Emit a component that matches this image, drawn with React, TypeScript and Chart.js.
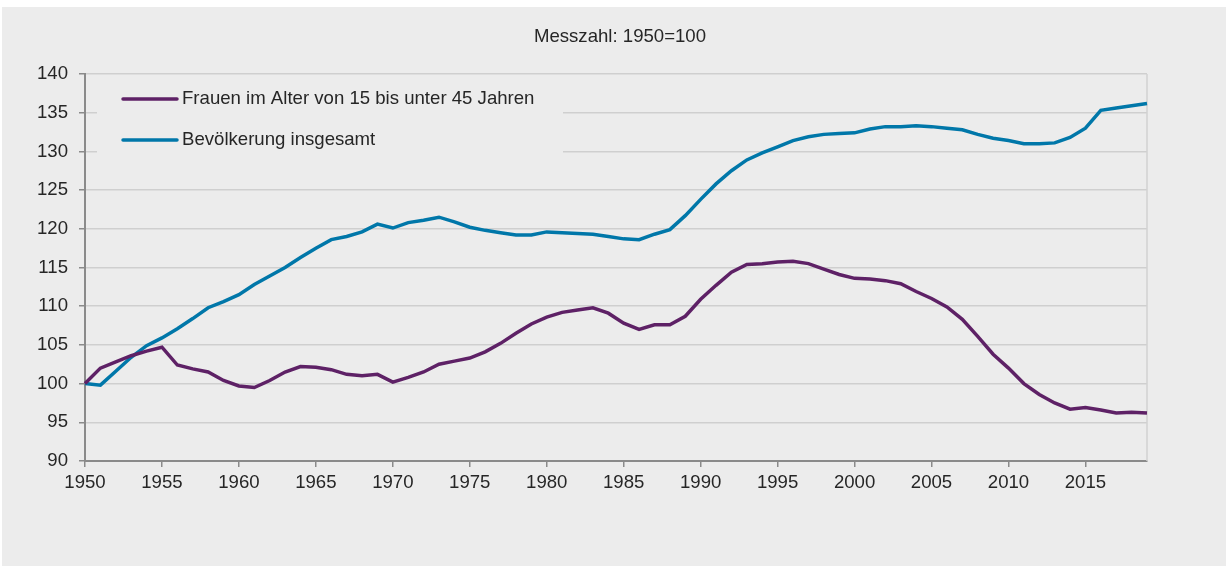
import React, { useEffect, useRef } from "react";
import { Chart, registerables } from "chart.js";

Chart.register(...registerables);

const YEARS = [
  1950, 1951, 1952, 1953, 1954, 1955, 1956, 1957, 1958, 1959,
  1960, 1961, 1962, 1963, 1964, 1965, 1966, 1967, 1968, 1969,
  1970, 1971, 1972, 1973, 1974, 1975, 1976, 1977, 1978, 1979,
  1980, 1981, 1982, 1983, 1984, 1985, 1986, 1987, 1988, 1989,
  1990, 1991, 1992, 1993, 1994, 1995, 1996, 1997, 1998, 1999,
  2000, 2001, 2002, 2003, 2004, 2005, 2006, 2007, 2008, 2009,
  2010, 2011, 2012, 2013, 2014, 2015, 2016, 2017, 2018, 2019,
];

const FRAUEN = [
  100.0, 102.0, 102.8, 103.6, 104.2, 104.7, 102.4, 101.9, 101.5, 100.4,
  99.7, 99.5, 100.4, 101.5, 102.2, 102.1, 101.8, 101.2, 101.0, 101.2,
  100.2, 100.8, 101.5, 102.5, 102.9, 103.3, 104.1, 105.2, 106.5, 107.7,
  108.6, 109.2, 109.5, 109.8, 109.1, 107.8, 107.0, 107.6, 107.6, 108.7,
  110.9, 112.7, 114.4, 115.4, 115.5, 115.7, 115.8, 115.5, 114.8, 114.1,
  113.6, 113.5, 113.3, 112.9, 111.9, 111.0, 109.9, 108.3, 106.1, 103.8,
  102.0, 100.0, 98.6, 97.5, 96.7, 96.9, 96.6, 96.2, 96.3, 96.2,
];

const BEVOELKERUNG = [
  100.0, 99.8, 101.6, 103.4, 104.9, 105.9, 107.1, 108.4, 109.8, 110.6,
  111.5, 112.8, 113.9, 115.0, 116.3, 117.5, 118.6, 119.0, 119.6, 120.6,
  120.1, 120.8, 121.1, 121.5, 120.9, 120.2, 119.8, 119.5, 119.2, 119.2,
  119.6, 119.5, 119.4, 119.3, 119.0, 118.7, 118.6, 119.3, 119.9, 121.7,
  123.8, 125.8, 127.5, 128.9, 129.8, 130.6, 131.4, 131.9, 132.2, 132.3,
  132.4, 132.9, 133.2, 133.2, 133.3, 133.2, 133.0, 132.8, 132.2, 131.7,
  131.4, 131.0, 131.0, 131.1, 131.8, 133.0, 135.3, 135.6, 135.9, 136.2,
];

const SERIES_LABELS = [
  "Frauen im Alter von 15 bis unter 45 Jahren",
  "Bevölkerung insgesamt",
];
const X_TICKS = [1950, 1955, 1960, 1965, 1970, 1975, 1980, 1985, 1990, 1995, 2000, 2005, 2010, 2015];
const Y_TICKS = [90, 95, 100, 105, 110, 115, 120, 125, 130, 135, 140];
const TITLE = "Messzahl: 1950=100";

const BG = "#ececec";
const PURPLE = "#5e2166";
const BLUE = "#0077a9";
const TEXT = "#262626";
const FONT = "'Liberation Sans', Arial, sans-serif";
const FS = 18.6;

export default function App() {
  const ref = useRef<HTMLCanvasElement | null>(null);

  useEffect(() => {
    const canvas = ref.current;
    if (!canvas) return;

    const bgPlugin = {
      id: "bgPlugin",
      beforeDraw(chart: any) {
        const ctx = chart.ctx;
        ctx.save();
        ctx.fillStyle = "#ffffff";
        ctx.fillRect(0, 0, chart.width, chart.height);
        ctx.fillStyle = BG;
        ctx.fillRect(2, 7, chart.width - 2, chart.height - 7);
        ctx.restore();
      },
      afterDraw(chart: any) {
        const ctx = chart.ctx;
        const area = chart.chartArea;
        ctx.save();
        ctx.fillStyle = TEXT;
        ctx.font = `${FS}px ${FONT}`;
        ctx.textAlign = "center";
        ctx.textBaseline = "middle";
        ctx.fillText(TITLE, (area.left + area.right) / 2 + 4, 37);
        ctx.restore();
      },
      beforeDatasetsDraw(chart: any) {
        const ctx = chart.ctx;
        const area = chart.chartArea;
        ctx.save();
        // right border
        ctx.strokeStyle = "#d2d2d2";
        ctx.lineWidth = 1.5;
        ctx.beginPath();
        ctx.moveTo(area.right, area.top);
        ctx.lineTo(area.right, area.bottom);
        ctx.stroke();
        // legend box covering grid lines
        ctx.fillStyle = BG;
        ctx.fillRect(area.left + 12, area.top + 6, 466, 88);
        const colors = [PURPLE, BLUE];
        const ys = [area.top + 25, area.top + 66];
        ctx.font = `${FS}px ${FONT}`;
        ctx.textBaseline = "middle";
        ctx.textAlign = "left";
        for (let i = 0; i < SERIES_LABELS.length; i++) {
          ctx.strokeStyle = colors[i];
          ctx.lineWidth = 3.5;
          ctx.lineCap = "round";
          ctx.beginPath();
          ctx.moveTo(area.left + 38, ys[i]);
          ctx.lineTo(area.left + 92, ys[i]);
          ctx.stroke();
          ctx.fillStyle = TEXT;
          ctx.fillText(SERIES_LABELS[i], area.left + 97, ys[i]);
        }
        ctx.restore();
      },
    };

    const chart = new Chart(canvas, {
      type: "line",
      data: {
        datasets: [
          {
            label: SERIES_LABELS[0],
            data: YEARS.map((y, i) => ({ x: y, y: FRAUEN[i] })),
            borderColor: PURPLE,
            backgroundColor: PURPLE,
            borderWidth: 3.5,
            pointRadius: 0,
            tension: 0,
            clip: false as any,
          },
          {
            label: SERIES_LABELS[1],
            data: YEARS.map((y, i) => ({ x: y, y: BEVOELKERUNG[i] })),
            borderColor: BLUE,
            backgroundColor: BLUE,
            borderWidth: 3.5,
            pointRadius: 0,
            tension: 0,
            clip: false as any,
          },
        ],
      },
      options: {
        animation: false,
        responsive: false,
        maintainAspectRatio: false,
        layout: { padding: { left: 0, right: 79, top: 74, bottom: 65 } },
        plugins: {
          legend: { display: false },
          title: { display: false },
          tooltip: { enabled: false },
        },
        scales: {
          x: {
            type: "linear",
            min: 1950,
            max: 2019,
            afterFit: (scale: any) => {
              scale.height = 40;
            },
            afterBuildTicks: (scale: any) => {
              scale.ticks = X_TICKS.map((v) => ({ value: v }));
            },
            ticks: {
              color: TEXT,
              font: { family: FONT, size: FS },
              padding: 5,
              maxRotation: 0,
              autoSkip: false,
              callback: (v: any) => String(v),
            },
            grid: {
              drawOnChartArea: false,
              drawTicks: true,
              tickLength: 6,
              tickColor: "#8a8a8a",
              lineWidth: 1.5,
            },
            border: { display: true, color: "#8a8a8a", width: 2 },
          },
          y: {
            type: "linear",
            min: 90,
            max: 140,
            afterFit: (scale: any) => {
              scale.width = 85;
            },
            afterBuildTicks: (scale: any) => {
              scale.ticks = Y_TICKS.map((v) => ({ value: v }));
            },
            ticks: {
              color: TEXT,
              font: { family: FONT, size: FS },
              padding: 11,
              callback: (v: any) => String(v),
            },
            grid: {
              color: "#cfcfcf",
              lineWidth: 1.5,
              drawTicks: true,
              tickLength: 6,
              tickColor: "#8a8a8a",
            },
            border: { display: true, color: "#8a8a8a", width: 2 },
          },
        },
      },
      plugins: [bgPlugin],
    });

    return () => {
      chart.destroy();
    };
  }, []);

  return (
    <div style={{ position: "fixed", left: 0, top: 0, width: 1226, height: 566 }}>
      <canvas ref={ref} width={1226} height={566} style={{ display: "block", width: 1226, height: 566 }} />
    </div>
  );
}
